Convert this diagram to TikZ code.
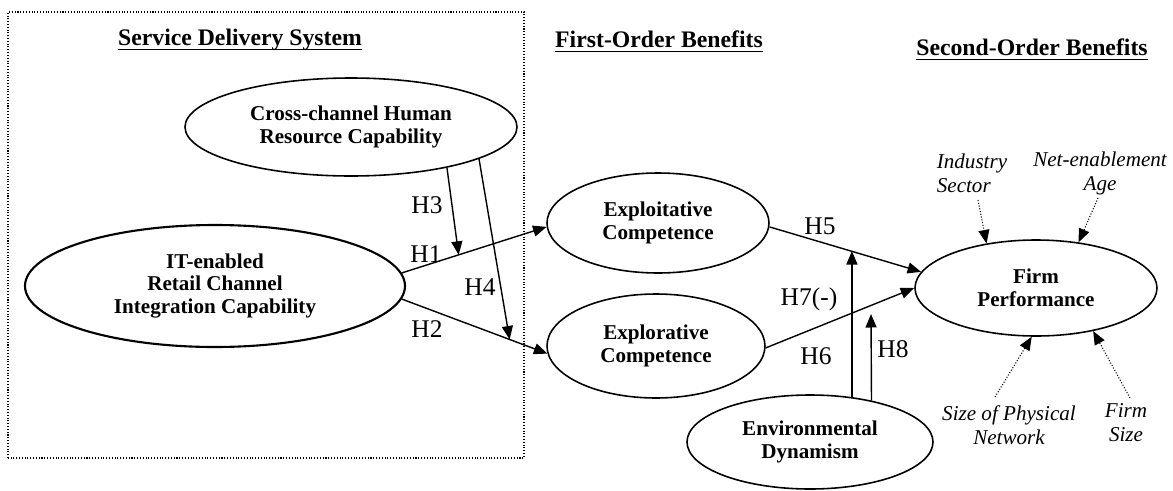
\documentclass[tikz,border=0pt]{standalone}
\usepackage{fontspec}
\setmainfont{Liberation Serif}
\usetikzlibrary{shapes.geometric,arrows.meta,positioning}
\begin{document}
\begin{tikzpicture}[
  var/.style={draw,ellipse,line width=0.9pt,inner sep=0pt,align=center,font=\bfseries\fontsize{12}{13}\selectfont},
  hyp/.style={inner sep=0pt,text height=9.6pt,text depth=0pt,font=\fontsize{14.5}{16}\selectfont},
  ctrl/.style={inner sep=0pt,align=center,font=\itshape\fontsize{12}{13.5}\selectfont},
  head/.style={inner sep=0pt,anchor=base,font=\bfseries\fontsize{13.5}{16}\selectfont},
  arr/.style={line width=0.8pt,-{Triangle[length=0.27cm,width=0.22cm]}},
  ctrlarr/.style={arr,line width=0.6pt,densely dotted}]
\useasboundingbox (0,0) rectangle (23.46,9.8);
\draw[densely dotted,line width=0.6pt] (0.16,0.64) rectangle (10.48,9.56);
\node[head] (sds) at (4.8,8.9) {Service Delivery System};
\node[head] (fob) at (13.18,8.86) {First-Order Benefits};
\node[head] (sob) at (20.64,8.7) {Second-Order Benefits};
\foreach \t in {sds,fob,sob}
  \draw[line width=1pt] ([yshift=-2.5pt]\t.base west) -- ([yshift=-2.5pt]\t.base east);
\node[var,minimum width=6.64cm,minimum height=1.96cm] (cross) at (7.02,7.26) {Cross-channel Human\\Resource Capability};
\node[var,minimum width=7.6cm,minimum height=2.44cm,line width=1.2pt] (it) at (4.3,4.08) {IT-enabled\\Retail Channel\\Integration Capability};
\node[var,minimum width=4.44cm,minimum height=2cm] (exploit) at (13.16,5.34) {Exploitative\\Competence};
\node[var,minimum width=4.36cm,minimum height=2.08cm] (explore) at (13.12,2.88) {Explorative\\Competence};
\node[var,minimum width=4.84cm,minimum height=1.92cm] (firm) at (20.72,4.04) {Firm\\Performance};
\node[var,minimum width=4.92cm,minimum height=1.88cm] (env) at (16.2,0.96) {Environmental\\Dynamism};
\node[hyp] (h3) at (8.54,5.7) {H3};
\node[hyp] (h1) at (8.52,4.72) {H1};
\node[hyp] (h4) at (9.6,4.06) {H4};
\node[hyp] (h2) at (8.54,3.22) {H2};
\node[hyp] (h5) at (16.4,5.28) {H5};
\node[hyp] (h7) at (16.18,3.86) {H7(-)};
\node[hyp] (h6) at (16.32,2.68) {H6};
\node[hyp] (h8) at (17.86,2.82) {H8};
\node[ctrl,align=left] (industry) at (19.44,6.33) {Industry\\Sector};
\node[ctrl] (netage) at (22.0,6.33) {Net-enablement\\Age};
\node[ctrl] (physical) at (20.18,1.3) {Size of Physical\\Network};
\node[ctrl] (firmsize) at (22.52,1.35) {Firm\\Size};
\coordinate (t1) at (19.56,5.8);
\coordinate (t2) at (21.96,5.84);
\coordinate (t3) at (19.9,1.86);
\coordinate (t4) at (22.6,1.84);
\coordinate (h8tip) at (17.42,3.52);
\draw[arr] (it.4) -- coordinate[pos=0.393] (m1) (exploit.182);
\draw[arr] (it.-4) -- coordinate[pos=0.741] (m2) (explore.184);
\draw[arr] (cross.-23) -- (m1);
\draw[arr] (cross.-14) -- (m2);
\draw[arr] (exploit.-2) -- coordinate[pos=0.537] (m5) (firm.172);
\draw[arr] (explore.-1) -- (firm.180);
\draw[arr] (env.47) -- (env.47 |- m5);
\draw[arr] (env.34) -- (h8tip);
\draw[ctrlarr] (t1) -- (firm.138);
\draw[ctrlarr] (t2) -- (firm.47);
\draw[ctrlarr] (t3) -- (firm.265);
\draw[ctrlarr] (t4) -- (firm.-37);
\end{tikzpicture}
\end{document}
